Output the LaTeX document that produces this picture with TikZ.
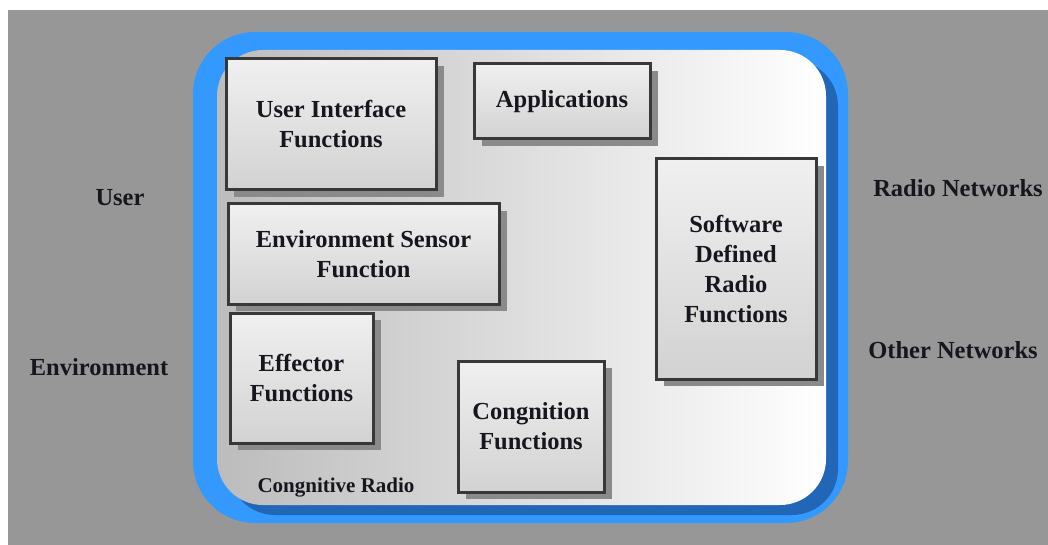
\documentclass[tikz,border=0pt]{standalone}
\usepackage{fontspec}
\setmainfont{Liberation Serif}
\usetikzlibrary{shadows}
\definecolor{bggray}{RGB}{151,151,151}
\definecolor{lightblue}{RGB}{51,153,255}
\definecolor{darkblue}{RGB}{34,102,184}
\definecolor{innerleft}{RGB}{188,188,188}
\definecolor{boxtop}{RGB}{240,240,240}
\definecolor{boxbottom}{RGB}{210,210,210}
\definecolor{boxborder}{RGB}{56,56,56}
\definecolor{shadowgray}{RGB}{138,138,138}
\definecolor{txt}{RGB}{22,22,30}
\tikzset{
  funcbox/.style={draw=boxborder, line width=3pt, top color=boxtop, bottom color=boxbottom,
    drop shadow={shadow xshift=8pt, shadow yshift=-7pt, fill=shadowgray, opacity=1},
    align=center, inner sep=0pt, text=txt,
    font=\bfseries\fontsize{24.5}{30}\selectfont},
  outlabel/.style={text=txt, inner sep=0pt, font=\bfseries\fontsize{24.5}{30}\selectfont},
  smalllabel/.style={text=txt, inner sep=0pt, font=\bfseries\fontsize{21}{25}\selectfont}
}
\begin{document}
\begin{tikzpicture}[x=1pt,y=-1pt]
\useasboundingbox (0,0) rectangle (1048,545);
\fill[white] (0,0) rectangle (1048,545);
\fill[bggray] (8,10) rectangle (1048,545);
% frame
\fill[lightblue, rounded corners=62pt] (193,32) rectangle (848,523);
\fill[darkblue, rounded corners=46pt] (229,60) rectangle (838,515);
\shade[left color=innerleft, right color=white, rounded corners=46pt] (217,50) rectangle (826,505);
% boxes
\node[funcbox, minimum width=210pt, minimum height=131pt] (uif) at (331,124.5) {User Interface\\Functions};
\node[funcbox, minimum width=176pt, minimum height=75pt] (app) at (562,101.5) {Applications};
\node[funcbox, minimum width=271pt, minimum height=100pt] (env) at (363.5,254) {Environment Sensor\\Function};
\node[funcbox, minimum width=143pt, minimum height=130pt] (eff) at (301.5,378) {Effector\\Functions};
\node[funcbox, minimum width=146pt, minimum height=131pt] (cog) at (531,426.5) {Congnition\\Functions};
\node[funcbox, minimum width=160pt, minimum height=220pt] (sdr) at (736,269) {Software\\Defined\\Radio\\Functions};
% labels
\node[smalllabel] (cr) at (336,488) {Congnitive Radio};
\node[outlabel] (user) at (120,198) {User};
\node[outlabel] (envl) at (99,367) {Environment};
\node[outlabel] (rn) at (958,188) {Radio Networks};
\node[outlabel] (on) at (953,350) {Other Networks};
\end{tikzpicture}
\end{document}
